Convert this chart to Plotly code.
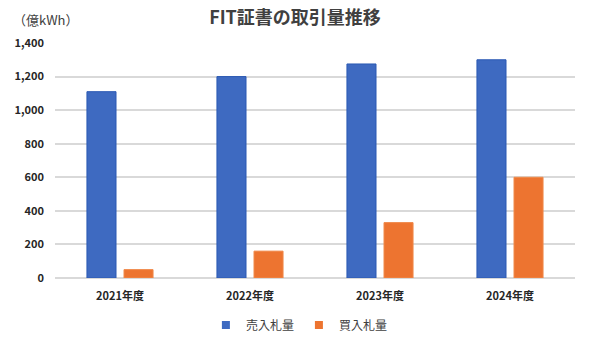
import plotly.graph_objects as go

categories = ["2021年度", "2022年度", "2023年度", "2024年度"]
sell_values = [1110, 1200, 1275, 1300]
buy_values = [50, 160, 330, 600]
series_names = ["売入札量", "買入札量"]
series_colors = ["#3E6AC1", "#ED7430"]
tick_vals = [0, 200, 400, 600, 800, 1000, 1200, 1400]

font_family = "Noto Sans CJK JP, Noto Sans, sans-serif"

fig = go.Figure()
fig.add_trace(go.Bar(x=categories, y=sell_values, name=series_names[0], showlegend=False,
                     marker=dict(color=series_colors[0], line=dict(color="#2B59B3", width=1))))
fig.add_trace(go.Bar(x=categories, y=buy_values, name=series_names[1], showlegend=False,
                     marker=dict(color=series_colors[1], line=dict(color="#F08A4B", width=1))))
for name, color in zip(series_names, series_colors):
    fig.add_trace(go.Scatter(x=[None], y=[None], mode="markers", name=name,
                             marker=dict(symbol="square", size=8, color=color)))

fig.update_layout(
    width=590, height=343,
    margin=dict(l=55, r=15, t=43, b=65, autoexpand=False),
    paper_bgcolor="white", plot_bgcolor="white",
    font=dict(family=font_family, color="#404040", size=11),
    title=dict(text="<b>FIT証書の取引量推移</b>", x=0.5, xanchor="center", y=0.947, yanchor="middle",
               font=dict(size=18, color="#404040", family=font_family)),
    barmode="group", bargap=0.43, bargroupgap=0.216,
    showlegend=True,
    legend=dict(orientation="h", x=0.47, xanchor="center", y=-0.2, yanchor="middle",
                font=dict(size=12, color="#404040"), itemwidth=30, traceorder="normal"),
)
fig.add_annotation(text="（億kWh）", xref="paper", yref="paper", x=-0.085, y=1.1,
                   xanchor="left", yanchor="middle", showarrow=False,
                   font=dict(size=13, color="#404040"))
fig.update_xaxes(showgrid=False, showline=False, ticks="", ticklabelstandoff=10,
                 tickfont=dict(size=11, color="#262626", weight="bold"))
fig.update_yaxes(range=[0, 1400], tickvals=tick_vals, tickformat=",d",
                 showgrid=True, gridcolor="#D9D9D9", gridwidth=1.5,
                 zeroline=True, zerolinecolor="#D9D9D9", zerolinewidth=1.5,
                 tickfont=dict(size=11, color="#262626", weight="bold"), ticks="", ticklabelstandoff=10)

fig.write_html("out.html")
